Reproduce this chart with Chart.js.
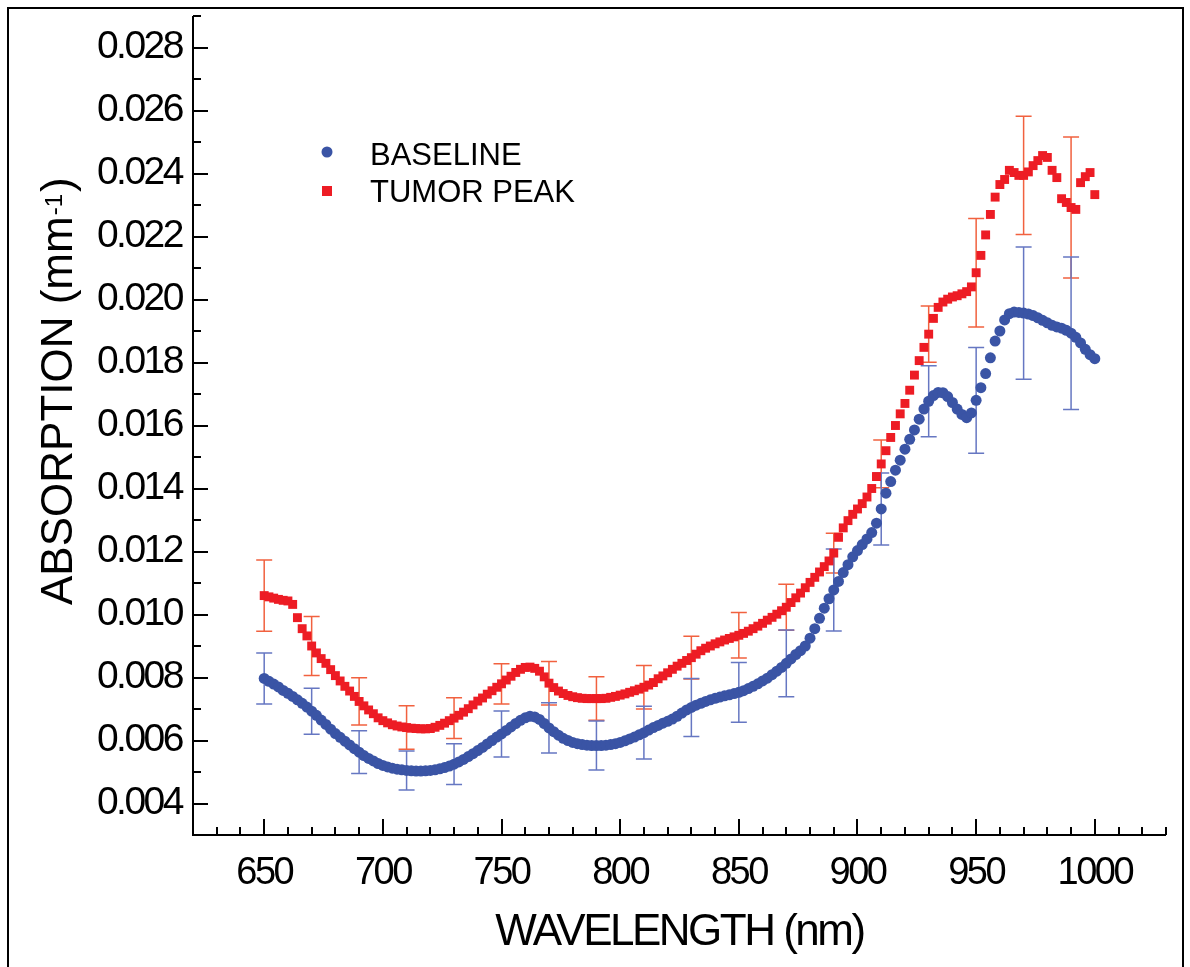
<!DOCTYPE html>
<html>
<head>
<meta charset="utf-8">
<script src="https://cdn.jsdelivr.net/npm/chart.js@4.4.1/dist/chart.umd.min.js"></script>
<style>
  html, body { margin: 0; padding: 0; background: #fff; }
  #wrap { width: 1190px; height: 967px; }
</style>
</head>
<body>
<div id="wrap"><canvas id="absChart" width="1190" height="967"></canvas></div>
<script>
// wavelength grid (nm), one point every 2 nm
const wavelengths = [
  650,652,654,656,658,660,662,664,666,668,
  670,672,674,676,678,680,682,684,686,688,
  690,692,694,696,698,700,702,704,706,708,
  710,712,714,716,718,720,722,724,726,728,
  730,732,734,736,738,740,742,744,746,748,
  750,752,754,756,758,760,762,764,766,768,
  770,772,774,776,778,780,782,784,786,788,
  790,792,794,796,798,800,802,804,806,808,
  810,812,814,816,818,820,822,824,826,828,
  830,832,834,836,838,840,842,844,846,848,
  850,852,854,856,858,860,862,864,866,868,
  870,872,874,876,878,880,882,884,886,888,
  890,892,894,896,898,900,902,904,906,908,
  910,912,914,916,918,920,922,924,926,928,
  930,932,934,936,938,940,942,944,946,948,
  950,952,954,956,958,960,962,964,966,968,
  970,972,974,976,978,980,982,984,986,988,
  990,992,994,996,998,1000
];

const baseline = [
  0.00797,0.00788,0.00779,0.00770,0.00759,0.00750,0.00740,0.00729,0.00718,0.00706,
  0.00693,0.00680,0.00665,0.00651,0.00636,0.00622,0.00610,0.00598,0.00586,0.00574,
  0.00563,0.00552,0.00543,0.00535,0.00527,0.00521,0.00516,0.00512,0.00509,0.00507,
  0.00505,0.00504,0.00503,0.00503,0.00504,0.00505,0.00507,0.00510,0.00514,0.00519,
  0.00525,0.00532,0.00540,0.00549,0.00558,0.00568,0.00578,0.00589,0.00600,0.00611,
  0.00621,0.00632,0.00643,0.00654,0.00664,0.00672,0.00677,0.00675,0.00667,0.00654,
  0.00640,0.00628,0.00617,0.00607,0.00600,0.00594,0.00590,0.00587,0.00585,0.00584,
  0.00584,0.00584,0.00585,0.00587,0.00590,0.00594,0.00599,0.00605,0.00611,0.00618,
  0.00625,0.00633,0.00641,0.00648,0.00655,0.00661,0.00668,0.00677,0.00687,0.00697,
  0.00705,0.00712,0.00718,0.00724,0.00729,0.00734,0.00738,0.00742,0.00745,0.00749,
  0.00753,0.00758,0.00765,0.00772,0.00780,0.00789,0.00798,0.00809,0.00820,0.00832,
  0.00845,0.00859,0.00873,0.00885,0.00900,0.00925,0.00955,0.00988,0.01020,0.01050,
  0.01078,0.01105,0.01133,0.01158,0.01183,0.01203,0.01222,0.01240,0.01260,0.01290,
  0.01335,0.01385,0.01422,0.01458,0.01490,0.01525,0.01556,0.01586,0.01620,0.01652,
  0.01677,0.01695,0.01705,0.01704,0.01692,0.01673,0.01652,0.01635,0.01625,0.01640,
  0.01680,0.01720,0.01765,0.01815,0.01868,0.01900,0.01935,0.01955,0.01960,0.01959,
  0.01957,0.01954,0.01949,0.01942,0.01934,0.01926,0.01918,0.01913,0.01909,0.01902,
  0.01893,0.01880,0.01862,0.01842,0.01825,0.01812
];

const tumorPeak = [
  0.01060,0.01056,0.01052,0.01048,0.01045,0.01043,0.01032,0.00990,0.00955,0.00932,
  0.00900,0.00878,0.00860,0.00845,0.00825,0.00806,0.00789,0.00772,0.00757,0.00740,
  0.00724,0.00710,0.00697,0.00685,0.00672,0.00663,0.00656,0.00650,0.00646,0.00643,
  0.00641,0.00639,0.00638,0.00637,0.00637,0.00638,0.00642,0.00648,0.00655,0.00663,
  0.00671,0.00680,0.00690,0.00701,0.00713,0.00725,0.00735,0.00747,0.00758,0.00769,
  0.00780,0.00792,0.00804,0.00816,0.00826,0.00832,0.00833,0.00829,0.00820,0.00802,
  0.00782,0.00768,0.00757,0.00749,0.00743,0.00739,0.00736,0.00734,0.00733,0.00733,
  0.00733,0.00733,0.00734,0.00737,0.00740,0.00744,0.00748,0.00753,0.00758,0.00763,
  0.00769,0.00776,0.00784,0.00796,0.00805,0.00815,0.00826,0.00836,0.00845,0.00854,
  0.00863,0.00874,0.00885,0.00893,0.00900,0.00907,0.00913,0.00919,0.00924,0.00929,
  0.00934,0.00940,0.00947,0.00955,0.00963,0.00972,0.00982,0.00991,0.01001,0.01012,
  0.01023,0.01038,0.01053,0.01068,0.01085,0.01102,0.01118,0.01135,0.01152,0.01170,
  0.01195,0.01245,0.01275,0.01298,0.01318,0.01335,0.01352,0.01373,0.01400,0.01438,
  0.01478,0.01520,0.01562,0.01600,0.01637,0.01670,0.01712,0.01760,0.01806,0.01848,
  0.01890,0.01940,0.01975,0.01992,0.02001,0.02008,0.02012,0.02018,0.02025,0.02040,
  0.02085,0.02140,0.02205,0.02270,0.02325,0.02365,0.02381,0.02410,0.02403,0.02394,
  0.02394,0.02405,0.02425,0.02441,0.02457,0.02451,0.02410,0.02387,0.02320,0.02308,
  0.02292,0.02286,0.02371,0.02390,0.02403,0.02333
];

// error bars every 20 nm (half-widths)
const errWavelengths = [650,670,690,710,730,750,770,790,810,830,850,870,890,910,930,950,970,990];
const baselineErr = [0.00081,0.00073,0.00068,0.00062,0.00065,0.00073,0.00080,0.00078,0.00084,
                     0.00092,0.00095,0.00106,0.00130,0.00114,0.00113,0.00168,0.00210,0.00242];
const tumorErr    = [0.00113,0.00094,0.00075,0.00069,0.00065,0.00064,0.00069,0.00069,0.00069,
                     0.00068,0.00072,0.00073,0.00063,0.00076,0.00089,0.00172,0.00188,0.00224];

const xTicks = [650, 700, 750, 800, 850, 900, 950, 1000];
const yTicks = [0.004, 0.006, 0.008, 0.010, 0.012, 0.014, 0.016, 0.018, 0.020, 0.022, 0.024, 0.026, 0.028];

const BLUE = '#3a54a5';
const RED = '#ed1c24';
const BLUE_ERR = '#6677c2';
const RED_ERR = '#f1613f';
const FONT = '"Liberation Sans", Arial, Helvetica, sans-serif';

function toPoints(ys) {
  return wavelengths.map((w, i) => ({ x: w, y: ys[i] }));
}

const axesAndErrors = {
  id: 'axesAndErrors',
  beforeDraw(chart) {
    const ctx = chart.ctx;
    ctx.save();
    ctx.fillStyle = '#fff';
    ctx.fillRect(0, 0, chart.width, chart.height);
    ctx.strokeStyle = '#000';
    ctx.lineWidth = 2;
    ctx.strokeRect(8, 8, 1175, 1000);
    ctx.restore();
    // tight tracking like the original typesetting
    ctx.letterSpacing = '-2.5px';
  },
  beforeDatasetsDraw(chart) {
    const ctx = chart.ctx;
    const xs = chart.scales.x, ys = chart.scales.y;
    const { left, right, top, bottom } = chart.chartArea;
    ctx.save();
    ctx.strokeStyle = '#000';
    ctx.lineWidth = 2;
    ctx.beginPath();
    ctx.moveTo(left, top);
    ctx.lineTo(left, bottom);
    ctx.lineTo(right, bottom);
    ctx.stroke();

    ctx.beginPath();
    for (let nm = 620; nm <= 1030; nm += 10) {
      const px = Math.round(xs.getPixelForValue(nm));
      const len = xTicks.includes(nm) ? 16 : 8;
      ctx.moveTo(px, bottom);
      ctx.lineTo(px, bottom - len);
    }
    for (let k = 3; k <= 29; k++) {
      const py = Math.round(ys.getPixelForValue(k / 1000));
      const len = k % 2 === 0 ? 15 : 8;
      ctx.moveTo(left, py);
      ctx.lineTo(left + len, py);
    }
    ctx.stroke();

    // error bars
    ctx.lineWidth = 1.5;
    const bar = (w, c, e, color) => {
      const px = xs.getPixelForValue(w);
      const y1 = ys.getPixelForValue(c + e);
      const y2 = ys.getPixelForValue(c - e);
      ctx.strokeStyle = color;
      ctx.beginPath();
      ctx.moveTo(px, y1); ctx.lineTo(px, y2);
      ctx.moveTo(px - 8, y1); ctx.lineTo(px + 8, y1);
      ctx.moveTo(px - 8, y2); ctx.lineTo(px + 8, y2);
      ctx.stroke();
    };
    errWavelengths.forEach((w, j) => {
      const i = wavelengths.indexOf(w);
      bar(w, tumorPeak[i], tumorErr[j], RED_ERR);
      bar(w, baseline[i], baselineErr[j], BLUE_ERR);
    });
    ctx.restore();
  },
  afterDraw(chart) {
    const ctx = chart.ctx;
    ctx.save();
    ctx.letterSpacing = '0px';

    // legend
    const ds = chart.data.datasets;
    ctx.fillStyle = BLUE;
    ctx.beginPath();
    ctx.arc(327, 152, 5.5, 0, Math.PI * 2);
    ctx.fill();
    ctx.fillStyle = RED;
    ctx.fillRect(322, 186, 10, 10);
    ctx.fillStyle = '#000';
    ctx.font = '31px ' + FONT;
    ctx.textBaseline = 'middle';
    ctx.textAlign = 'left';
    ctx.fillText(ds[0].label, 370, 156);
    ctx.fillText(ds[1].label, 370, 193);

    // y axis title with superscript
    ctx.translate(72, 605);
    ctx.rotate(-Math.PI / 2);
    ctx.textBaseline = 'alphabetic';
    ctx.font = '44px ' + FONT;
    const main = 'ABSORPTION (mm';
    ctx.fillText(main, 0, 0);
    let w = ctx.measureText(main).width + 1;
    ctx.font = '24px ' + FONT;
    ctx.fillText('-1', w, -10);
    w += ctx.measureText('-1').width + 2;
    ctx.font = '44px ' + FONT;
    ctx.fillText(')', w, 0);
    ctx.restore();
  }
};

const ctx = document.getElementById('absChart').getContext('2d');
new Chart(ctx, {
  type: 'scatter',
  data: {
    datasets: [
      {
        label: 'BASELINE',
        data: toPoints(baseline),
        pointStyle: 'circle',
        pointRadius: 5.5,
        backgroundColor: BLUE,
        borderColor: BLUE,
        borderWidth: 0,
        showLine: false
      },
      {
        label: 'TUMOR PEAK',
        data: toPoints(tumorPeak),
        pointStyle: 'rect',
        pointRadius: 6.3,
        backgroundColor: RED,
        borderColor: RED,
        borderWidth: 0,
        showLine: false
      }
    ]
  },
  options: {
    responsive: false,
    animation: false,
    devicePixelRatio: 1,
    layout: { padding: { top: 16, right: 24, left: 0, bottom: 0 } },
    plugins: {
      legend: { display: false },
      tooltip: { enabled: false }
    },
    scales: {
      x: {
        type: 'linear',
        min: 620,
        max: 1030,
        grid: { display: false, drawTicks: false },
        border: { display: false },
        afterBuildTicks: (scale) => { scale.ticks = xTicks.map(v => ({ value: v })); },
        afterFit: (scale) => {
          scale.height = 132;
          scale.paddingLeft = 0;
          scale.paddingRight = 0;
        },
        ticks: {
          color: '#000',
          padding: 16,
          maxRotation: 0,
          font: { family: FONT, size: 38 },
          callback: (v) => String(v)
        },
        title: {
          display: true,
          text: 'WAVELENGTH (nm)',
          color: '#000',
          font: { family: FONT, size: 44 },
          padding: { top: 0, bottom: 8 }
        }
      },
      y: {
        type: 'linear',
        min: 0.003,
        max: 0.029,
        grid: { display: false, drawTicks: false },
        border: { display: false },
        afterBuildTicks: (scale) => { scale.ticks = yTicks.map(v => ({ value: v })); },
        afterFit: (scale) => {
          scale.width = 193;
          scale.paddingTop = 0;
          scale.paddingBottom = 0;
        },
        ticks: {
          color: '#000',
          padding: 11,
          font: { family: FONT, size: 39 },
          callback: (v) => Number(v).toFixed(3)
        }
      }
    }
  },
  plugins: [axesAndErrors]
});
</script>
</body>
</html>
